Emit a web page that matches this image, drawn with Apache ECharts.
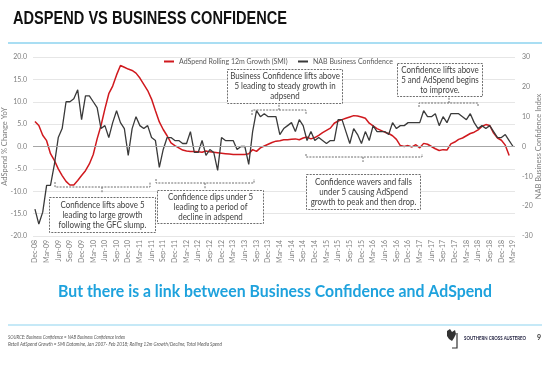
<!DOCTYPE html>
<html><head><meta charset="utf-8">
<script src="https://cdn.jsdelivr.net/npm/echarts@6/dist/echarts.min.js"></script>
<style>html,body{margin:0;padding:0;background:#fff}#c{width:549px;height:366px}</style>
</head><body><div id="c"></div>
<script>
// ---------- DATA ----------
const categories = [
 'Dec-08',
 'Jan-09','Feb-09','Mar-09','Apr-09','May-09','Jun-09','Jul-09','Aug-09','Sep-09','Oct-09','Nov-09','Dec-09',
 'Jan-10','Feb-10','Mar-10','Apr-10','May-10','Jun-10','Jul-10','Aug-10','Sep-10','Oct-10','Nov-10','Dec-10',
 'Jan-11','Feb-11','Mar-11','Apr-11','May-11','Jun-11','Jul-11','Aug-11','Sep-11','Oct-11','Nov-11','Dec-11',
 'Jan-12','Feb-12','Mar-12','Apr-12','May-12','Jun-12','Jul-12','Aug-12','Sep-12','Oct-12','Nov-12','Dec-12',
 'Jan-13','Feb-13','Mar-13','Apr-13','May-13','Jun-13','Jul-13','Aug-13','Sep-13','Oct-13','Nov-13','Dec-13',
 'Jan-14','Feb-14','Mar-14','Apr-14','May-14','Jun-14','Jul-14','Aug-14','Sep-14','Oct-14','Nov-14','Dec-14',
 'Jan-15','Feb-15','Mar-15','Apr-15','May-15','Jun-15','Jul-15','Aug-15','Sep-15','Oct-15','Nov-15','Dec-15',
 'Jan-16','Feb-16','Mar-16','Apr-16','May-16','Jun-16','Jul-16','Aug-16','Sep-16','Oct-16','Nov-16','Dec-16',
 'Jan-17','Feb-17','Mar-17','Apr-17','May-17','Jun-17','Jul-17','Aug-17','Sep-17','Oct-17','Nov-17','Dec-17',
 'Jan-18','Feb-18','Mar-18','Apr-18','May-18','Jun-18','Jul-18','Aug-18','Sep-18','Oct-18','Nov-18','Dec-18',
 'Jan-19','Feb-19','Mar-19'
];
// AdSpend rolling 12m growth (%), left axis
const adspendGrowth = [
 5.6,
 4.7,2.5,1.3,-1.6,-3.1,-5.0,-6.5,-7.8,-8.6,-8.6,-7.6,-6.5,
 -5.4,-3.9,-1.8,1.7,4.7,8.4,11.8,13.5,16.0,18.1,17.7,17.3,
 17.0,16.4,15.3,13.9,12.5,10.6,8.0,5.5,3.8,2.4,0.8,0.2,
 -0.3,-0.8,-1.0,-1.1,-1.1,-1.2,-1.3,-1.0,-1.2,-1.3,-1.4,-1.5,
 -1.6,-1.7,-1.8,-1.8,-1.8,-1.8,-1.6,-0.7,-1.1,-0.3,0.1,0.5,
 0.9,1.2,1.3,1.5,1.5,1.6,1.7,1.5,1.9,2.1,1.7,2.0,
 2.5,3.1,3.6,4.1,5.2,5.7,6.0,6.3,6.6,6.9,6.8,6.6,
 6.3,5.2,4.6,4.0,3.6,3.2,2.9,2.4,1.6,0.2,0.0,0.2,
 -0.1,0.4,-0.3,0.7,0.5,0.0,-0.5,-0.9,-0.7,-0.8,0.6,1.0,
 1.6,1.9,2.4,2.9,3.2,3.7,4.5,4.9,4.7,3.0,1.9,1.4,
 0.3,-2.0,null
];
// NAB Business Confidence index, right axis
const businessConfidence = [
 -21,
 -26,-22,-13,-13,-6,3,6,15,15,16,19,9,
 17,17,15,13,6,7,3,8,12,8,6,-3,
 6,10,7,6,7,3,2,-7,-1,3,3,2,
 2,1,1,5,-2,-2,2,-3,-1,-2,-8,3,
 2,2,2,-1,0,0,-6,5,12,10,11,10,
 10,10,4,6,7,8,5,9,7,2,5,2,
 3,2,1,2,2,9,9,5,1,6,4,1,
 5,2,7,5,5,5,4,8,6,7,7,8,
 8,8,8,12,10,10,11,7,10,8,11,11,
 11,10,9,11,8,6,7,6,7,5,3,3,
 4,2,0
];
const seriesNames = ['AdSpend Rolling 12m Growth (SMI)', 'NAB Business Confidence'];
const axisNames = ['AdSpend % Change YoY', 'NAB Business Confidence Index'];
const titleText = 'ADSPEND VS BUSINESS CONFIDENCE';
const subtitleText = 'But there is a link between Business Confidence and AdSpend';
const sourceLines = [
 'SOURCE: Business Confidence = NAB Business Confidence Index',
 'Retail AdSpend Growth = SMI Datamine, Jan 2007- Feb 2018; Rolling 12m Growth/Decline, Total Media Spend'
];
const logoText = 'SOUTHERN CROSS AUSTEREO';
const pageNumber = '9';
const noteTexts = [
 ['Business Confidence lifts above','5 leading to steady growth in','adpsend'],
 ['Confidence lifts above','5 and AdSpend begins','to improve.'],
 ['Confidence wavers and falls','under 5 causing AdSpend','growth to peak and then drop.'],
 ['Confidence lifts above 5','leading to large growth','following the GFC slump.'],
 ['Confidence dips under 5','leading to a period of','decline in adspend']
];

// ---------- LAYOUT (annotation placement, pixels) ----------
const noteLayout = [
 {box:[227,69,115,34], bracket:[[252,115],[252,110],[306,110],[306,115]], tick:[[279,110],[279,103]]},
 {box:[397,63,85,33],  bracket:[[419,107],[419,103],[478,103],[478,107]], tick:[[449,103],[449,96]]},
 {box:[306,174,114,35],bracket:[[306,154],[306,157],[422,157],[422,154]], tick:[[363,157],[363,162]]},
 {box:[49,197,106,35], bracket:[[55,182],[55,187],[150,187],[150,182]],   tick:[[102,187],[102,193]]},
 {box:[157,190,106,33],bracket:[[156,179],[156,183],[254,183],[254,179]], tick:[[205,183],[205,189]]}
];

const FONT = 'Lato';
const mctx = document.createElement('canvas').getContext('2d');
function measure(text, font){ mctx.font = font; return mctx.measureText(text).width; }
function fit(text, font, target){ return target / measure(text, font); }

function txt(x, y, text, opt, scaleX){
  return {type:'text', x:x, y:y, scaleX: scaleX || 1, z: 100,
    style: Object.assign({text:text, fontFamily:FONT, align:'left', verticalAlign:'middle',
      textAlign:'left', textVerticalAlign:'middle'}, opt)};
}

const graphic = [];
// title
graphic.push(txt(13, 19.5, titleText, {fontFamily:'Liberation Sans', fontWeight:'bold', fontSize:18, fill:'#111'},
  fit(titleText, 'bold 18px "Liberation Sans"', 274)));
graphic.push({type:'line', shape:{x1:8,y1:43,x2:542,y2:43}, style:{stroke:'#8dd3ef', lineWidth:1.5}});
// subtitle
graphic.push(txt(275, 292, subtitleText, {fontWeight:'bold', fontSize:17, fill:'#1ea2dd', align:'center', textAlign:'center'},
  fit(subtitleText, 'bold 17px '+FONT, 434)));
graphic.push({type:'line', shape:{x1:8,y1:325,x2:542,y2:325}, style:{stroke:'#8dd3ef', lineWidth:1}});
// footer
const srcTargets = [117, 214];
sourceLines.forEach((t,i)=>{
  graphic.push(txt(8, 337+i*7, t, {fontStyle:'italic', fontSize:5, fill:'#595959'},
    fit(t, 'italic 5px '+FONT, srcTargets[i])));
});
graphic.push(txt(464, 338, logoText, {fontWeight:'bold', fontSize:6, fill:'#1c1c3c'}, fit(logoText, 'bold 6px '+FONT, 62)));
graphic.push(txt(537, 338, pageNumber, {fontWeight:'bold', fontSize:7, fill:'#333'}));
graphic.push({type:'polygon', shape:{points:[[447,331],[450,329],[452,332],[455,330],[456,334],[454,338],[452,341],[449,339],[447,336]]}, style:{fill:'#333'}});
graphic.push({type:'polyline', shape:{points:[[457,333],[457,348],[452,348]]}, style:{stroke:'#333', lineWidth:1.2, fill:null}});

// annotations
const annScale = fit('Confidence lifts above 5', '8.5px '+FONT, 84);
noteTexts.forEach((lines, k)=>{
  const L = noteLayout[k];
  const [bx,by,bw,bh] = L.box;
  graphic.push({type:'polyline', z:90, shape:{points:L.bracket}, style:{stroke:'#6f6f6f', lineWidth:1, lineDash:[2,1.2], fill:null}});
  graphic.push({type:'polyline', z:90, shape:{points:L.tick}, style:{stroke:'#6f6f6f', lineWidth:1, lineDash:[2,1.2], fill:null}});
  graphic.push({type:'rect', z:90, shape:{x:bx+0.5,y:by+0.5,width:bw,height:bh}, style:{fill:'#fff', stroke:'#6f6f6f', lineWidth:1, lineDash:[2,1.2]}});
  const cy = by + bh/2 + 0.5;
  lines.forEach((t,i)=>{
    graphic.push(txt(bx+bw/2+0.5, cy+(i-1)*10, t, {fontSize:8.5, fill:'#404040', align:'center', textAlign:'center'}, annScale));
  });
});

const legendW1 = measure(seriesNames[0], '7px '+FONT);
const chart = echarts.init(document.getElementById('c'), null, {renderer:'canvas'});
chart.setOption({
  animation:false,
  backgroundColor:'#fff',
  textStyle:{fontFamily:FONT},
  grid:{left:33, right:34, top:57, bottom:130, containLabel:false, outerBoundsMode:'none'},
  legend:{
    data:seriesNames, left:164, top:58, padding:0, itemWidth:10, itemHeight:2, icon:'rect',
    itemGap: Math.max(4, 298 - (164 + 10 + 5 + legendW1)),
    textStyle:{fontSize:7, color:'#595959', fontFamily:FONT, padding:0}
  },
  xAxis:{
    type:'category', data:categories, boundaryGap:true,
    axisLine:{show:false}, axisTick:{show:false}, splitLine:{show:false},
    axisLabel:{interval:2, rotate:90, fontSize:7, color:'#7f7f7f', margin:4, fontFamily:FONT}
  },
  yAxis:[
    {type:'value', min:-20, max:20, interval:5, position:'left',
     axisLine:{show:false}, axisTick:{show:false},
     splitLine:{show:true, lineStyle:{color:'#e6e6e6', width:1}},
     axisLabel:{formatter:v=>v.toFixed(1), fontSize:7, color:'#7f7f7f', margin:6, fontFamily:FONT},
     name:axisNames[0], nameLocation:'middle', nameGap:24, nameRotate:90, nameMoveOverlap:false,
     nameTextStyle:{fontSize:7.5, color:'#7f7f7f', fontFamily:FONT}},
    {type:'value', min:-30, max:30, interval:10, position:'right',
     axisLine:{show:false}, axisTick:{show:false}, splitLine:{show:false},
     axisLabel:{fontSize:7, color:'#7f7f7f', margin:7, fontFamily:FONT},
     name:axisNames[1], nameLocation:'middle', nameGap:20, nameRotate:90, nameMoveOverlap:false,
     nameTextStyle:{fontSize:7.5, color:'#7f7f7f', fontFamily:FONT}}
  ],
  series:[
    {name:seriesNames[0], type:'line', yAxisIndex:0, data:adspendGrowth, showSymbol:false, symbol:'none',
     lineStyle:{color:'#d0191e', width:1.5}, itemStyle:{color:'#d0191e'}, connectNulls:false, z:3,
     markLine:{silent:true, symbol:'none', label:{show:false}, animation:false,
       lineStyle:{color:'#a6a6a6', width:1, type:'solid'}, data:[{yAxis:0}]}},
    {name:seriesNames[1], type:'line', yAxisIndex:1, data:businessConfidence, showSymbol:false, symbol:'none',
     lineStyle:{color:'#3a3a3a', width:1.3}, itemStyle:{color:'#3a3a3a'}, z:4}
  ],
  graphic:graphic
});
</script>
</body></html>
